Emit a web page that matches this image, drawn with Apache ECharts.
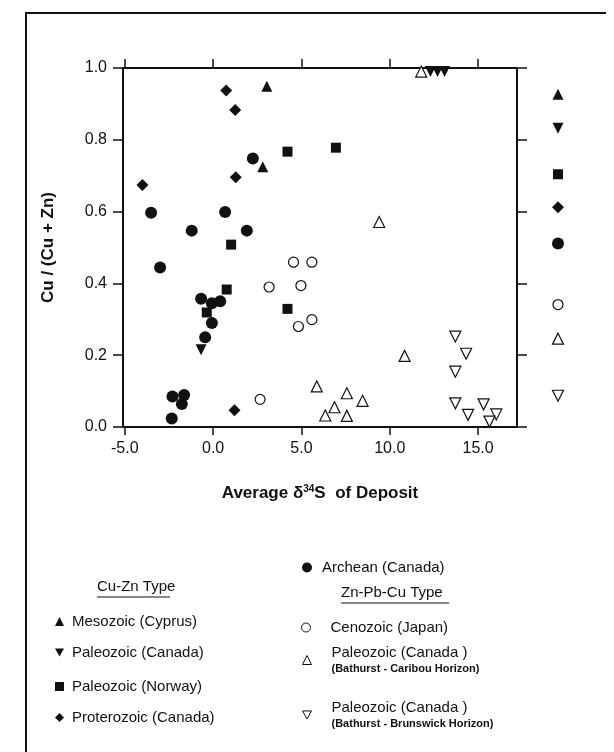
<!DOCTYPE html>
<html>
<head>
<meta charset="utf-8">
<script src="https://cdn.jsdelivr.net/npm/echarts@6/dist/echarts.min.js"></script>
<style>
  html, body { margin: 0; padding: 0; background: #fff; }
  #chart { width: 614px; height: 752px; }
</style>
</head>
<body>
<div id="chart"></div>
<script>
// x = average d34S of deposit, y = Cu / (Cu + Zn)
var mesozoicCyprus = [[3.04, 0.949], [2.81, 0.725]];
var paleozoicCanada = [[-0.68, 0.215], [12.3, 0.99], [12.7, 0.99], [13.1, 0.99]];
var paleozoicNorway = [[4.21, 0.767], [6.95, 0.778], [1.02, 0.508], [0.77, 0.383], [-0.36, 0.319], [4.21, 0.329]];
var proterozoicCanada = [[0.74, 0.937], [1.25, 0.883], [1.28, 0.696], [-4.0, 0.674], [1.21, 0.047]];
var archeanCanada = [[2.25, 0.748], [-3.51, 0.597], [0.68, 0.599], [-1.21, 0.547], [1.91, 0.547], [-3.0, 0.444],
  [-0.68, 0.357], [-0.07, 0.345], [0.4, 0.35], [-0.07, 0.29], [-0.45, 0.25],
  [-2.3, 0.085], [-1.64, 0.089], [-1.77, 0.064], [-2.34, 0.024]];
var cenozoicJapan = [[4.55, 0.459], [5.59, 0.459], [3.17, 0.39], [4.97, 0.394], [4.83, 0.28], [5.59, 0.299], [2.66, 0.077]];
var caribouHorizon = [[9.4, 0.571], [11.78, 0.99], [10.84, 0.198], [5.87, 0.113], [7.57, 0.094], [8.46, 0.073],
  [6.87, 0.055], [6.35, 0.032], [7.57, 0.031]];
var brunswickHorizon = [[13.71, 0.252], [14.32, 0.204], [13.71, 0.154], [13.71, 0.066], [15.31, 0.063],
  [14.43, 0.034], [16.03, 0.035], [15.64, 0.015]];

// group averages shown in the column right of the plot
var groupAverages = [0.927, 0.832, 0.704, 0.612, 0.511, 0.341, 0.246, 0.087];

var xTicks = [-5, 0, 5, 10, 15];

var font = "'Liberation Sans', Arial, sans-serif";
var ink = '#111';
var downTriangle = 'path://M0,0 L10,0 L5,9 Z';

var groups = [
  { name: 'Mesozoic (Cyprus)', data: mesozoicCyprus, symbol: 'triangle', size: 11, rot: 0, open: false },
  { name: 'Paleozoic (Canada)', data: paleozoicCanada, symbol: 'triangle', size: 11, rot: 180, open: false },
  { name: 'Paleozoic (Norway)', data: paleozoicNorway, symbol: 'rect', size: 10, rot: 0, open: false },
  { name: 'Proterozoic (Canada)', data: proterozoicCanada, symbol: 'diamond', size: 12, rot: 0, open: false },
  { name: 'Archean (Canada)', data: archeanCanada, symbol: 'circle', size: 12, rot: 0, open: false },
  { name: 'Cenozoic (Japan)', data: cenozoicJapan, symbol: 'circle', size: 10, rot: 0, open: true },
  { name: 'Paleozoic (Canada ) Caribou', data: caribouHorizon, symbol: 'triangle', size: 11, rot: 0, open: true },
  { name: 'Paleozoic (Canada ) Brunswick', data: brunswickHorizon, symbol: 'triangle', size: 11, rot: 180, open: true }
];

var series = [];
groups.forEach(function (g, i) {
  var style = g.open
    ? { color: '#fff', borderColor: ink, borderWidth: 1.2, opacity: 1 }
    : { color: ink, opacity: 1 };
  series.push({
    name: g.name, type: 'scatter', xAxisIndex: 0, yAxisIndex: 0,
    symbol: g.symbol, symbolSize: g.size, symbolRotate: g.rot,
    itemStyle: style, data: g.data, z: 3
  });
  series.push({
    name: g.name, type: 'scatter', xAxisIndex: 2, yAxisIndex: 2,
    symbol: g.symbol, symbolSize: g.size, symbolRotate: g.rot,
    itemStyle: style, data: [[0.5, groupAverages[i]]]
  });
});

// legend entries: [group index, left, top, text gap, icon size, first line, second line]
var legendItems = [
  [0, 55, 614, 3, 9, 'Mesozoic (Cyprus)', ''],
  [1, 55, 645, 3, 9, 'Paleozoic (Canada)', ''],
  [2, 55, 679, 3, 9, 'Paleozoic (Norway)', ''],
  [3, 55, 710, 3, 9, 'Proterozoic (Canada)', ''],
  [4, 302, 560, 5, 10, 'Archean (Canada)', ''],
  [5, 301, 620, 15, 9, 'Cenozoic (Japan)', ''],
  [6, 302, 645, 15, 9, 'Paleozoic (Canada )', '(Bathurst - Caribou Horizon)'],
  [7, 302, 700, 15, 9, 'Paleozoic (Canada )', '(Bathurst - Brunswick Horizon)']
];

var legends = legendItems.map(function (it) {
  var g = groups[it[0]];
  var item = { name: g.name };
  if (g.rot === 180) item.icon = downTriangle;
  return {
    data: [item], left: it[1], top: it[2], padding: 0, orient: 'vertical',
    itemWidth: it[4], itemHeight: it[4], selectedMode: false,
    itemStyle: g.open
      ? { color: '#fff', borderColor: ink, borderWidth: 1, opacity: 1 }
      : { color: ink, borderWidth: 0, opacity: 1 },
    formatter: function () {
      return it[6] ? '{a|' + it[5] + '}\n{b|' + it[6] + '}' : '{a|' + it[5] + '}';
    },
    textStyle: {
      color: ink, fontFamily: font, padding: [0, 0, 0, it[3]],
      rich: {
        a: { fontSize: 15, lineHeight: 18, fontFamily: font, color: ink },
        b: { fontSize: 11, lineHeight: 15, fontWeight: 'bold', fontFamily: font, color: ink }
      }
    }
  };
});

var chart = echarts.init(document.getElementById('chart'), null, { renderer: 'canvas' });

chart.setOption({
  backgroundColor: '#fff',
  animation: false,
  textStyle: { fontFamily: font, color: ink },
  grid: [
    { left: 123, top: 68, width: 394, height: 359 },
    { left: 540, top: 68, width: 36, height: 359 }
  ],
  xAxis: [
    {
      gridIndex: 0, type: 'value', position: 'bottom', min: -5.1, max: 17.2,
      axisLine: { onZero: false, lineStyle: { color: ink, width: 2 } },
      axisTick: { customValues: xTicks, length: 8, lineStyle: { color: ink, width: 1.5 } },
      axisLabel: {
        customValues: xTicks, margin: 14, fontSize: 16, color: ink, fontFamily: font,
        formatter: function (v) { return v.toFixed(1); }
      },
      splitLine: { show: false },
      name: 'Average δ{sup|34}S  of Deposit', nameLocation: 'middle', nameGap: 57,
      nameTextStyle: {
        fontSize: 17, fontWeight: 'bold', color: ink, fontFamily: font,
        rich: { sup: { fontSize: 10, fontWeight: 'bold', fontFamily: font, color: ink, padding: [0, 0, 9, 0] } }
      }
    },
    {
      gridIndex: 0, type: 'value', position: 'top', min: -5.1, max: 17.2,
      axisLine: { onZero: false, lineStyle: { color: ink, width: 2 } },
      axisTick: { customValues: xTicks, length: 9, lineStyle: { color: ink, width: 1.5 } },
      axisLabel: { show: false },
      splitLine: { show: false }
    },
    { gridIndex: 1, type: 'value', min: 0, max: 1, show: false }
  ],
  yAxis: [
    {
      gridIndex: 0, type: 'value', position: 'left', min: 0, max: 1, interval: 0.2,
      axisLine: { show: true, onZero: false, lineStyle: { color: ink, width: 2 } },
      axisTick: { show: true, length: 10, lineStyle: { color: ink, width: 1.5 } },
      axisLabel: {
        margin: 16, fontSize: 16, color: ink, fontFamily: font,
        formatter: function (v) { return v.toFixed(1); }
      },
      splitLine: { show: false },
      name: 'Cu / (Cu + Zn)', nameLocation: 'middle', nameGap: 66, nameRotate: 90,
      nameTextStyle: { fontSize: 17, fontWeight: 'bold', color: ink, fontFamily: font }
    },
    {
      gridIndex: 0, type: 'value', position: 'right', min: 0, max: 1, interval: 0.2,
      axisLine: { show: true, onZero: false, lineStyle: { color: ink, width: 2 } },
      axisTick: { show: true, length: 10, lineStyle: { color: ink, width: 1.5 } },
      axisLabel: { show: false },
      splitLine: { show: false }
    },
    { gridIndex: 1, type: 'value', min: 0, max: 1, show: false }
  ],
  legend: legends,
  graphic: [
    {
      type: 'polyline', silent: true,
      shape: { points: [[26, 752], [26, 13], [606, 13]] },
      style: { stroke: ink, lineWidth: 2, fill: null }
    },
    {
      type: 'text', left: 97, top: 579,
      style: { text: 'Cu-Zn Type', fontSize: 15, fontFamily: font, fill: ink }
    },
    {
      type: 'line', shape: { x1: 97, y1: 597, x2: 170, y2: 597 },
      style: { stroke: ink, lineWidth: 1 }
    },
    {
      type: 'text', left: 341, top: 585,
      style: { text: 'Zn-Pb-Cu Type', fontSize: 15, fontFamily: font, fill: ink }
    },
    {
      type: 'line', shape: { x1: 341, y1: 603, x2: 449, y2: 603 },
      style: { stroke: ink, lineWidth: 1 }
    }
  ],
  series: series
});
</script>
</body>
</html>
